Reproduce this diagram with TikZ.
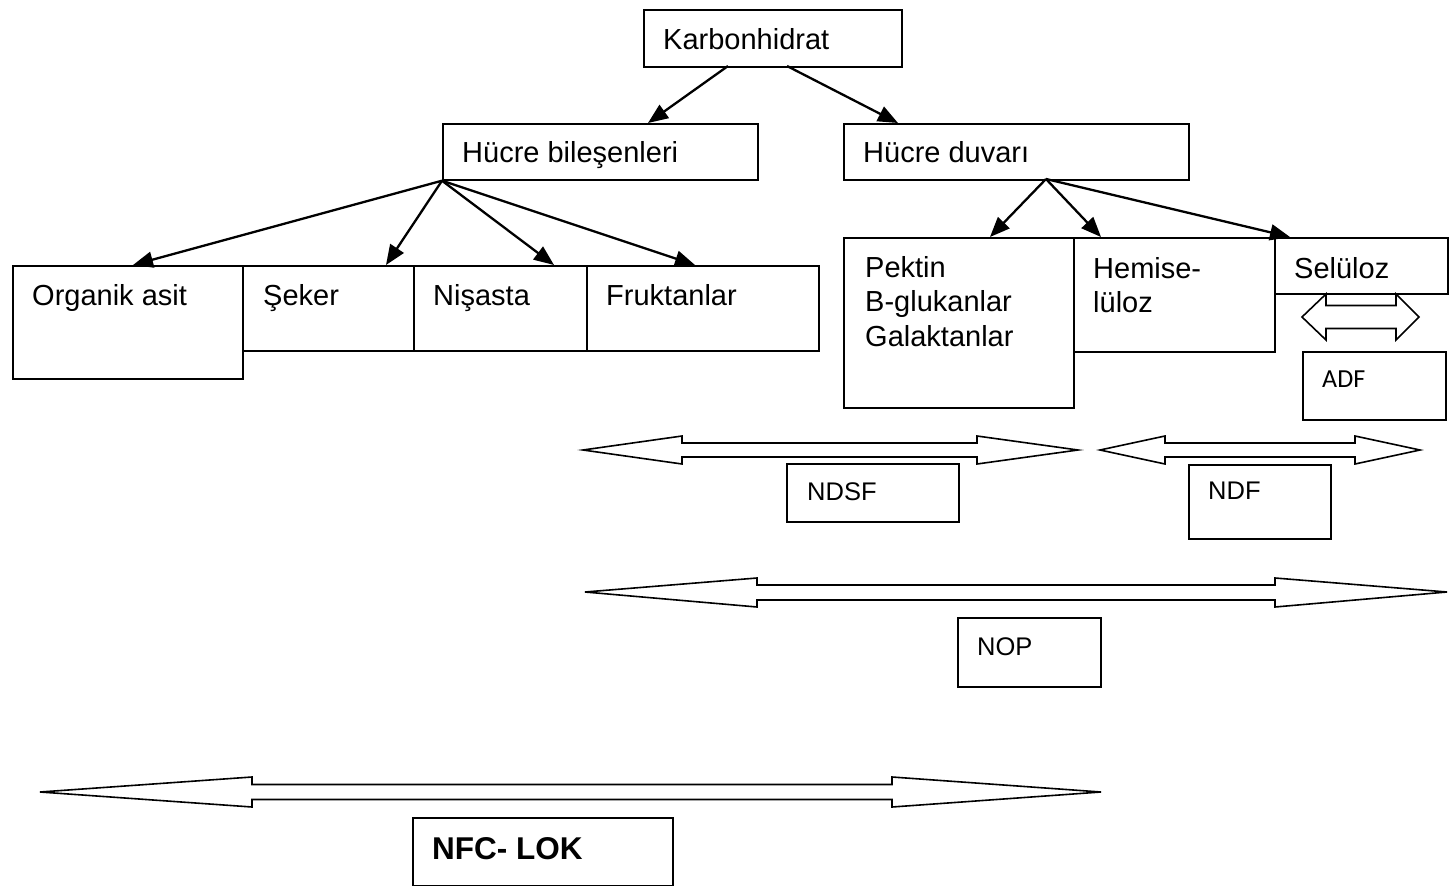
\documentclass[tikz,border=0pt]{standalone}
\usepackage{fontspec}
\setmainfont{Liberation Sans}
\newfontfamily\adffont{Carlito}
\usetikzlibrary{arrows.meta}
\begin{document}
\begin{tikzpicture}[x=1pt,y=-1pt,
  box/.style args={#1x#2}{draw, line width=1.7pt, anchor=north west, inner sep=0pt,
    minimum width=#1pt, minimum height=#2pt},
  lbl/.style={anchor=base west, inner sep=0pt, font=\fontsize{29}{34}\selectfont},
  slbl/.style={anchor=base west, inner sep=0pt, font=\fontsize{25.5}{30}\selectfont},
  conn/.style={line width=2.3pt, -{Triangle[length=20pt,width=16pt]}},
  harrow/.style={draw, line width=1.6pt, fill=white, line join=miter}]
\useasboundingbox (0,0) rectangle (1449,886);

% boxes
\node[box=258x57] (kh) at (643,9) {};
\node[box=315x56] (hb) at (442,123) {};
\node[box=345x56] (hd) at (843,123) {};
\node[box=230x113] (oa) at (12,265) {};
\node[box=171x85] (sk) at (242,265) {};
\node[box=173x85] (ns) at (413,265) {};
\node[box=232x85] (fr) at (586,265) {};
\node[box=230x170] (pk) at (843,237) {};
\node[box=201x114] (hm) at (1073,237) {};
\node[box=173x56] (sl) at (1274,237) {};
\node[box=143x68] (adf) at (1302,351) {};
\node[box=172x58] (ndsf) at (786,463) {};
\node[box=142x74] (ndf) at (1188,464) {};
\node[box=143x69] (nop) at (957,617) {};
\node[box=260x68] (nfc) at (412,817) {};

% texts
\node[lbl] at (663,49) {Karbonhidrat};
\node[lbl] at (462,162) {Hücre bileşenleri};
\node[lbl] at (863,162) {Hücre duvarı};
\node[lbl] at (32,305) {Organik asit};
\node[lbl] at (263,305) {Şeker};
\node[lbl] at (433,305) {Nişasta};
\node[lbl] at (606,305) {Fruktanlar};
\node[lbl] at (865,277) {Pektin};
\node[lbl] at (865,311) {B-glukanlar};
\node[lbl] at (865,346) {Galaktanlar};
\node[lbl] at (1093,278) {Hemise-};
\node[lbl] at (1093,312) {lüloz};
\node[lbl] at (1294,278) {Selüloz};
\node[anchor=base west, inner sep=0pt, font=\adffont\fontsize{26}{30}\selectfont] at (1322,387) {ADF};
\node[slbl] at (807,500) {NDSF};
\node[slbl] at (1208,499) {NDF};
\node[slbl] at (977,655) {NOP};
\node[anchor=base west, inner sep=0pt, font=\bfseries\fontsize{31.5}{36}\selectfont] at (432,859) {NFC- LOK};

% connectors
\coordinate (kh1) at (728,66);
\coordinate (kh2) at (787,66);
\draw[conn] (kh1) -- (648,123);
\draw[conn] (kh2) -- (898,123);
\draw[conn] (hb.south west) -- (133,265);
\draw[conn] (hb.south west) -- (386,265);
\draw[conn] (hb.south west) -- (554,265);
\draw[conn] (hb.south west) -- (695,265);
\coordinate (hdb) at (1046,179);
\draw[conn] (hdb) -- (990,237);
\draw[conn] (hdb) -- (1101,237);
\draw[conn] (hdb) -- (1290,237);

% hollow double arrows
% ADF
\path[harrow] (1302,317) -- (1326,294) -- (1326,305.5) -- (1396,305.5) -- (1396,294) -- (1419,317)
  -- (1396,340) -- (1396,328.5) -- (1326,328.5) -- (1326,340) -- cycle;
% NDSF
\path[harrow] (583,450) -- (682,436) -- (682,443) -- (977,443) -- (977,436) -- (1078,450)
  -- (977,464) -- (977,457) -- (682,457) -- (682,464) -- cycle;
% NDF
\path[harrow] (1100,450) -- (1165,436) -- (1165,443) -- (1355,443) -- (1355,436) -- (1420,450)
  -- (1355,464) -- (1355,457) -- (1165,457) -- (1165,464) -- cycle;
% NOP
\path[harrow] (585,592) -- (757,578) -- (757,585) -- (1275,585) -- (1275,578) -- (1447,592)
  -- (1275,607) -- (1275,600) -- (757,600) -- (757,607) -- cycle;
% NFC
\path[harrow] (40,792) -- (252,777) -- (252,784.5) -- (892,784.5) -- (892,777) -- (1101,792)
  -- (892,807) -- (892,799.5) -- (252,799.5) -- (252,807) -- cycle;
\end{tikzpicture}
\end{document}
